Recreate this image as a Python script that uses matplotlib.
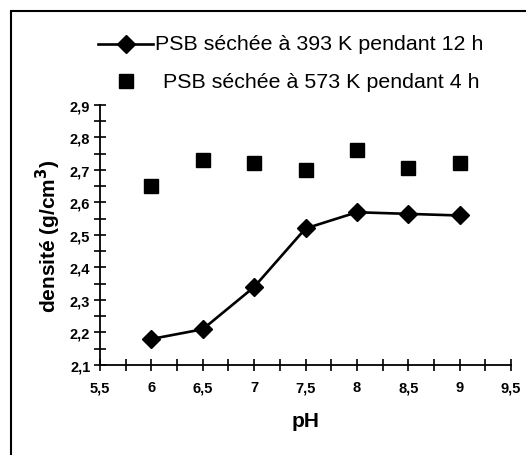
import matplotlib
matplotlib.use("Agg")
import matplotlib.pyplot as plt
from matplotlib.lines import Line2D
from matplotlib.patches import Rectangle
from matplotlib.ticker import MultipleLocator, FuncFormatter

plt.rcParams['font.family'] = ['Liberation Sans', 'DejaVu Sans']

ph = [6, 6.5, 7, 7.5, 8, 8.5, 9]
dens_393 = [2.18, 2.21, 2.34, 2.52, 2.57, 2.565, 2.56]
dens_573 = [2.65, 2.73, 2.72, 2.70, 2.76, 2.705, 2.72]
label_393 = "PSB séchée à 393 K pendant 12 h"
label_573 = "PSB séchée à 573 K pendant 4 h"

W, H = 526, 456
fig = plt.figure(figsize=(W / 100, H / 100), dpi=100)
ax = fig.add_axes([100 / W, 1 - 366 / H, (511 - 100) / W, (366 - 106) / H])

ax.plot(ph, dens_393, color='black', lw=1.9, marker='D', ms=9, mfc='black', mec='black', clip_on=False)
ax.plot(ph, dens_573, ls='none', marker='s', ms=10.5, mfc='black', mec='black', clip_on=False)

ax.set_xlim(5.5, 9.5)
ax.set_ylim(2.1, 2.9)
for s in ['top', 'right']:
    ax.spines[s].set_visible(False)
for s in ['left', 'bottom']:
    ax.spines[s].set_linewidth(1.3)

ax.xaxis.set_major_locator(MultipleLocator(0.5))
ax.xaxis.set_minor_locator(MultipleLocator(0.25))
ax.yaxis.set_major_locator(MultipleLocator(0.1))
ax.yaxis.set_minor_locator(MultipleLocator(0.05))
fmt = FuncFormatter(lambda v, p: ('%g' % round(v, 2)).replace('.', ','))
ax.xaxis.set_major_formatter(fmt)
ax.yaxis.set_major_formatter(fmt)
ax.tick_params(which='both', direction='inout', length=8, width=1.2, labelsize=10.5)
ax.tick_params(axis='x', which='major', pad=7)
ax.tick_params(axis='y', which='major', pad=3)
for lab in ax.get_xticklabels() + ax.get_yticklabels():
    lab.set_fontweight('bold')

ax.set_xlabel('pH', fontsize=15, fontweight='bold', labelpad=12)
ax.set_ylabel('densité (g/cm$^\\mathbf{3}$)', fontsize=15, fontweight='bold', labelpad=5)

# legend
y1 = 1 - 45 / H
y2 = 1 - 82 / H
fig.add_artist(Line2D([98 / W, 153 / W], [y1, y1], color='black', lw=1.9))
fig.add_artist(Line2D([126 / W], [y1], marker='D', ms=9, color='black', ls='none'))
fig.text(155 / W, y1, label_393, fontsize=15.4, va='center', ha='left')
fig.add_artist(Line2D([126 / W], [y2], marker='s', ms=10.5, color='black', ls='none'))
fig.text(163 / W, y2, label_573, fontsize=15.4, va='center', ha='left')

# outer frame
fig.add_artist(Rectangle((11 / W, -0.05), 1.2, 1 - 12 / H + 0.05, transform=fig.transFigure,
                         fill=False, lw=1.5, ec='black'))

fig.savefig('out.png', dpi=100)
